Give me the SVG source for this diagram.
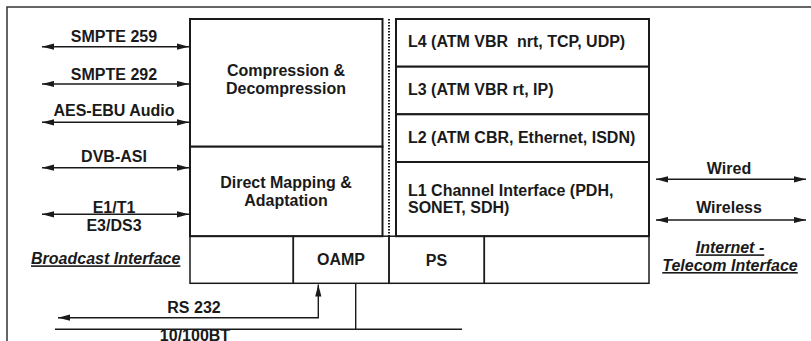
<svg xmlns="http://www.w3.org/2000/svg" width="811" height="341" viewBox="0 0 811 341">
  <defs>
    <style>
      .lbl { font-family: "Liberation Sans", Arial, Helvetica, sans-serif; font-weight: bold; font-size: 16px; fill: #1a1a1a; white-space: pre; }
      .mid { text-anchor: middle; }
      .ital { font-style: italic; text-decoration: underline; }
      .box { fill: #fff; stroke: #1a1a1a; stroke-width: 2; }
      .cell { fill: none; stroke: #1a1a1a; stroke-width: 1.5; }
      .wire { fill: none; stroke: #1a1a1a; stroke-width: 1.4; }
      .arrow2 { marker-start: url(#head); marker-end: url(#head); }
      .frame { fill: none; stroke: #333; stroke-width: 1.5; }
      .dots { fill: none; stroke: #1a1a1a; stroke-width: 2; stroke-dasharray: 1.5 1.5; }
    </style>
    <marker id="head" markerUnits="userSpaceOnUse" markerWidth="12" markerHeight="7" refX="12" refY="3.5" orient="auto-start-reverse" viewBox="0 0 12 7">
      <path d="M0,0.4 L12,3.5 L0,6.6 z" fill="#1a1a1a"/>
    </marker>
  </defs>

  <rect width="811" height="341" fill="#fff"/>

  <!-- outer enclosure -->
  <path class="frame" d="M7,341 V7 H811"/>

  <!-- left column: processing blocks -->
  <g id="compression">
    <rect class="box" x="190" y="19" width="192.5" height="127.7"/>
    <text class="lbl mid" x="286" y="76">Compression &amp;</text>
    <text class="lbl mid" x="286" y="94.3">Decompression</text>
  </g>
  <g id="direct-mapping">
    <rect class="box" x="190" y="146.7" width="192.5" height="89.5"/>
    <text class="lbl mid" x="286" y="188.3">Direct Mapping &amp;</text>
    <text class="lbl mid" x="286" y="206">Adaptation</text>
  </g>

  <!-- separator between the two columns -->
  <g id="separator">
    <line class="dots" x1="389" y1="19" x2="389" y2="236.2"/>
  </g>

  <!-- right column: protocol layers -->
  <g id="layer-l4">
    <rect class="box" x="396" y="19" width="253" height="47.7"/>
    <text class="lbl" x="408" y="47">L4 (ATM VBR&#160; nrt, TCP, UDP)</text>
  </g>
  <g id="layer-l3">
    <rect class="box" x="396" y="66.7" width="253" height="47.6"/>
    <text class="lbl" x="408" y="95">L3 (ATM VBR rt, IP)</text>
  </g>
  <g id="layer-l2">
    <rect class="box" x="396" y="114.3" width="253" height="47.7"/>
    <text class="lbl" x="408" y="143.3">L2 (ATM CBR, Ethernet, ISDN)</text>
  </g>
  <g id="layer-l1">
    <rect class="box" x="396" y="162" width="253" height="74.2"/>
    <text class="lbl" x="408" y="195.5">L1 Channel Interface (PDH,</text>
    <text class="lbl" x="408" y="212.8">SONET, SDH)</text>
  </g>

  <!-- bottom row -->
  <g id="bottom-left">
    <rect class="cell" x="190" y="236.2" width="103.3" height="47.1"/>
  </g>
  <g id="oamp">
    <rect class="cell" x="293.3" y="236.2" width="95.7" height="47.1"/>
    <text class="lbl mid" x="341" y="265">OAMP</text>
  </g>
  <g id="ps">
    <rect class="cell" x="389" y="236.2" width="95.3" height="47.1"/>
    <text class="lbl mid" x="436.5" y="265.5">PS</text>
  </g>
  <g id="bottom-right">
    <rect class="cell" x="484.3" y="236.2" width="164.7" height="47.1"/>
  </g>

  <!-- interface captions -->
  <g id="broadcast-interface">
    <text class="lbl ital" x="31" y="264.3">Broadcast Interface</text>
  </g>
  <g id="telecom-interface">
    <text class="lbl ital mid" x="730" y="253.3">Internet -</text>
    <text class="lbl ital mid" x="730" y="271">Telecom Interface</text>
  </g>

  <!-- connectors -->
  <g id="connectors">
    <line class="wire arrow2" x1="42" y1="46.7" x2="189" y2="46.7"/>
    <line class="wire arrow2" x1="42" y1="84" x2="189" y2="84"/>
    <line class="wire arrow2" x1="42" y1="122.3" x2="189" y2="122.3"/>
    <line class="wire arrow2" x1="42" y1="167.7" x2="189" y2="167.7"/>
    <line class="wire arrow2" x1="42" y1="214.3" x2="189" y2="214.3"/>

    <line class="wire arrow2" x1="656" y1="179.3" x2="806" y2="179.3"/>
    <line class="wire arrow2" x1="656" y1="220" x2="806" y2="220"/>

    <!-- RS 232 link up to OAMP -->
    <polyline class="wire arrow2" points="58,317.7 318.3,317.7 318.3,284.5"/>
    <!-- 10/100BT bus -->
    <polyline class="wire" points="55,329.3 462,329.3"/>
    <line class="wire" x1="355.7" y1="283.3" x2="355.7" y2="329.3"/>
  </g>

  <!-- connector labels -->
  <g id="connector-labels">
    <text class="lbl mid" x="114" y="42.3">SMPTE 259</text>
    <text class="lbl mid" x="114" y="80">SMPTE 292</text>
    <text class="lbl mid" x="114" y="116">AES-EBU Audio</text>
    <text class="lbl mid" x="114" y="162.3">DVB-ASI</text>
    <text class="lbl mid" x="114" y="212.7">E1/T1</text>
    <text class="lbl mid" x="114" y="230.7">E3/DS3</text>
    <text class="lbl mid" x="729" y="173.5">Wired</text>
    <text class="lbl mid" x="729" y="213.3">Wireless</text>
    <text class="lbl mid" x="194" y="312.7">RS 232</text>
    <text class="lbl mid" x="195" y="340.5">10/100BT</text>
  </g>
</svg>
